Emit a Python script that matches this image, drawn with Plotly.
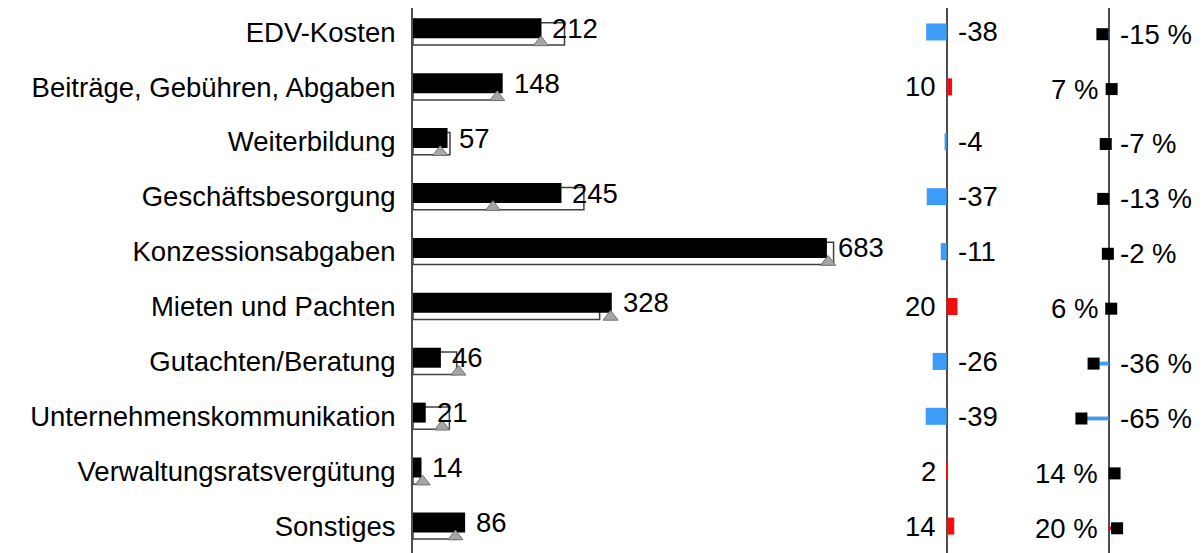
import plotly.graph_objects as go

categories = [
    "EDV-Kosten",
    "Beiträge, Gebühren, Abgaben",
    "Weiterbildung",
    "Geschäftsbesorgung",
    "Konzessionsabgaben",
    "Mieten und Pachten",
    "Gutachten/Beratung",
    "Unternehmenskommunikation",
    "Verwaltungsratsvergütung",
    "Sonstiges",
]
actual = [212, 148, 57, 245, 683, 328, 46, 21, 14, 86]
previous = [250, 138, 61, 282, 694, 308, 72, 60, 12, 72]
plan = [211, 139, 45, 132, 685, 326, 75, 48, 16, 70]
delta = [-38, 10, -4, -37, -11, 20, -26, -39, 2, 14]
delta_pct = [-15, 7, -7, -13, -2, 6, -36, -65, 14, 20]

BLUE = "#3d9cf5"
RED = "#f20d0d"
AXIS = "#4d4d4d"
FONT = "Liberation Sans, Arial, sans-serif"
FS = 27.5
W, H = 1203, 553

rows = list(range(len(categories)))


def sign_colors(vals):
    return [RED if v > 0 else BLUE for v in vals]


fig = go.Figure()

# left panel: previous year (white), actual (black), plan (triangles)
fig.add_trace(go.Bar(
    y=rows, x=previous, orientation="h", width=0.406, offset=-0.169,
    marker=dict(color="white", line=dict(color="#404040", width=1.5)),
    xaxis="x", yaxis="y",
))
fig.add_trace(go.Bar(
    y=rows, x=actual, orientation="h", width=0.364, offset=-0.249,
    marker=dict(color="black", line=dict(width=0)),
    xaxis="x", yaxis="y",
))
fig.add_trace(go.Scatter(
    y=[r + 0.19 for r in rows], x=plan, mode="markers",
    marker=dict(symbol="triangle-up", size=13, color="#a6a6a6",
                line=dict(color="#707070", width=1)),
    xaxis="x", yaxis="y",
))

# middle panel: absolute variance
fig.add_trace(go.Bar(
    y=rows, x=delta, orientation="h", width=0.31,
    marker=dict(color=sign_colors(delta), line=dict(width=0)),
    xaxis="x2", yaxis="y",
))

# right panel: relative variance (pins)
fig.add_trace(go.Bar(
    y=[r + 0.04 for r in rows], x=delta_pct, orientation="h", width=0.07,
    marker=dict(color=sign_colors(delta_pct), line=dict(width=0)),
    xaxis="x3", yaxis="y",
))
fig.add_trace(go.Scatter(
    y=[r + 0.04 for r in rows], x=delta_pct, mode="markers",
    marker=dict(symbol="square", size=12, color="black"),
    xaxis="x3", yaxis="y",
))

annotations = []
for r, v in zip(rows, actual):
    annotations.append(dict(
        x=v, y=r - 0.067, xref="x", yref="y", text=str(v),
        xanchor="left", xshift=9, showarrow=False,
    ))
for r, v in zip(rows, delta):
    annotations.append(dict(
        x=0, y=r, xref="x2", yref="y", text=str(v),
        xanchor="right" if v > 0 else "left", xshift=-9 if v > 0 else 9,
        showarrow=False,
    ))
for r, v in zip(rows, delta_pct):
    annotations.append(dict(
        x=0, y=r + 0.04, xref="x3", yref="y", text=f"{v} %",
        xanchor="right" if v > 0 else "left", xshift=-9 if v > 0 else 9,
        showarrow=False,
    ))

hidden = dict(showticklabels=False, showgrid=False, ticks="", automargin=False)

# the page body adds 8px on the left and top, so the layout is drawn 8px up/left
fig.update_layout(
    width=W, height=H,
    margin=dict(l=0, r=0, t=0, b=8),
    paper_bgcolor="white", plot_bgcolor="rgba(0,0,0,0)",
    font=dict(family=FONT, size=FS, color="black"),
    barmode="overlay", showlegend=False,
    xaxis=dict(domain=[405 / W, 882 / W], range=[0, 477 / 0.606],
               zeroline=False, anchor="y", **hidden),
    xaxis2=dict(domain=[892 / W, 992 / W], range=[-46.7 / 0.54, 53.3 / 0.54],
                zeroline=True, zerolinecolor=AXIS, zerolinewidth=2,
                anchor="y", **hidden),
    xaxis3=dict(domain=[1002 / W, 1.0], range=[-98.7 / 0.42, 102.3 / 0.42],
                zeroline=True, zerolinecolor=AXIS, zerolinewidth=2,
                anchor="y", **hidden),
    yaxis=dict(range=[9.49, -0.437], tickvals=rows, ticktext=categories,
               showline=True, linecolor=AXIS, linewidth=2, ticks="",
               ticklabelstandoff=10, showgrid=False, zeroline=False,
               automargin=False, anchor="x",
               tickfont=dict(family=FONT, size=FS, color="black")),
    annotations=annotations,
)

fig.write_html("out.html")
